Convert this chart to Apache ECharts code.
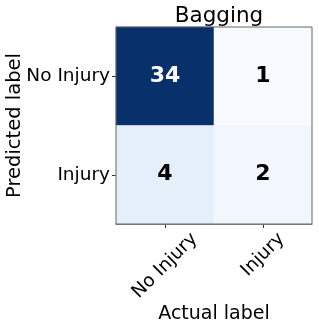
<!DOCTYPE html>
<html><head><meta charset="utf-8">
<script src="https://cdn.jsdelivr.net/npm/echarts@6/dist/echarts.min.js"></script>
<style>html,body{margin:0;padding:0;background:#fff}#c{width:319px;height:326px}</style>
</head><body><div id="c"></div>
<script>
const actualLabels = ['No Injury', 'Injury'];
const predictedLabels = ['No Injury', 'Injury'];
// [actualIndex, predictedIndex, count]
const cells = [[0, 0, 34], [1, 0, 1], [0, 1, 4], [1, 1, 2]];
const title = 'Bagging';
const xName = 'Actual label';
const yName = 'Predicted label';
const F = 'DejaVu Sans';
const TICK_FS = 18.5;

const chart = echarts.init(document.getElementById('c'));
chart.setOption({
  animation: false,
  title: { text: title, left: 214, top: 0, textAlign: 'center',
    textStyle: { fontFamily: F, fontSize: 21.5, fontWeight: 'normal', color: '#000' } },
  grid: { left: 116, top: 27, width: 196, height: 197, outerBoundsMode: 'none', containLabel: false },
  xAxis: { type: 'category', data: actualLabels, name: xName, nameLocation: 'middle', nameGap: 81,
    nameTextStyle: { fontFamily: F, fontSize: 19, color: '#000' },
    axisLine: { show: true, lineStyle: { color: '#666', width: 1 } },
    axisTick: { show: true, alignWithLabel: true, length: 4, lineStyle: { color: '#333' } },
    axisLabel: { show: false },
    splitLine: { show: false } },
  yAxis: { type: 'category', data: predictedLabels, inverse: true,
    axisLine: { show: true, lineStyle: { color: '#666', width: 1 } },
    axisTick: { show: true, alignWithLabel: true, length: 4, lineStyle: { color: '#333' } },
    axisLabel: { fontFamily: F, fontSize: TICK_FS, color: '#000', margin: 6 },
    splitLine: { show: false } },
  visualMap: { show: false, min: 1, max: 34, dimension: 2,
    inRange: { color: ['#f7fbff','#deebf7','#c6dbef','#9ecae1','#6baed6','#4292c6','#2171b5','#08519c','#08306b'] } },
  series: [{ type: 'heatmap',
    data: cells.map(c => ({ value: c, label: { color: c[2] > 17 ? '#fff' : '#000' } })),
    label: { show: true, fontFamily: F, fontSize: 22, fontWeight: 'bold',
      formatter: p => String(p.value[2]) },
    itemStyle: { borderWidth: 0 } }]
});

// Matplotlib-style rotated x tick labels: centred under the tick, tops aligned.
const ctx = document.createElement('canvas').getContext('2d');
ctx.font = TICK_FS + 'px "' + F + '"';
const labelEls = actualLabels.map((name) => {
  const tx = chart.convertToPixel({ xAxisIndex: 0 }, name);
  const w = ctx.measureText(name).width;
  const h = TICK_FS * 1.1;
  const half = 0.3536 * (w + h);
  return { type: 'text', x: tx, y: 229 + half, rotation: Math.PI / 4, silent: true,
    style: { text: name, align: 'center', verticalAlign: 'middle', fontFamily: F, fontSize: TICK_FS, fill: '#000' } };
});
const yNameEl = { type: 'text', x: 15, y: 125.5, rotation: Math.PI / 2, silent: true,
  style: { text: yName, align: 'center', verticalAlign: 'middle', fontFamily: F, fontSize: 19.5, fill: '#000' } };
chart.setOption({ graphic: labelEls.concat([yNameEl, { type: 'rect', shape: { x: 116, y: 27, width: 196, height: 197 },
    style: { fill: 'none', stroke: '#666', lineWidth: 1 }, silent: true, z: 100 }]) });
</script></body></html>
